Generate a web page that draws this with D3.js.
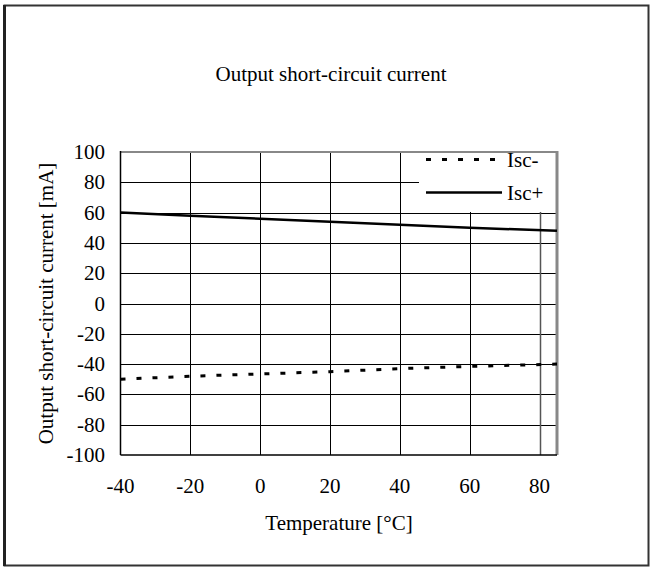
<!DOCTYPE html>
<html>
<head>
<meta charset="utf-8">
<script src="https://cdn.jsdelivr.net/npm/d3@7"></script>
<style>
  body { margin: 0; background: #fff; }
  text { font-family: "Liberation Serif", "Times New Roman", serif; fill: #000; }
</style>
</head>
<body>
<svg id="chart"></svg>
<script>
// Temperatures [°C] and currents [mA]
var temps = [-40, -20, 0, 20, 40, 60, 85];
var iscMinus = [-50, -48, -46.5, -45, -43, -41.5, -40];
var iscPlus = [60, 58, 56, 54, 52, 50, 48];
var xTicks = [-40, -20, 0, 20, 40, 60, 80];
var yTicks = [-100, -80, -60, -40, -20, 0, 20, 40, 60, 80, 100];
var seriesNames = ["Isc-", "Isc+"];

var width = 652,
    height = 568,
    fontSize = "21px";

var svg = d3.select("#chart")
    .attr("width", width)
    .attr("height", height);

// Outer frame
svg.append("rect")
    .attr("x", 4.5).attr("y", 5.5)
    .attr("width", 644).attr("height", 560)
    .attr("fill", "none")
    .attr("stroke", "#333")
    .attr("stroke-width", 2);
svg.append("line")
    .attr("x1", 4.5).attr("x2", 4.5)
    .attr("y1", 5).attr("y2", 566)
    .attr("stroke", "#222")
    .attr("stroke-width", 3);

// Plot area
var plotLeft = 120.5, plotRight = 557, plotTop = 152, plotBottom = 455;

var x = d3.scaleLinear().domain([-40, 85]).range([plotLeft, plotRight]);
var y = d3.scaleLinear().domain([-100, 100]).range([plotBottom, plotTop]);

// Gridlines
svg.append("g")
    .selectAll("line")
    .data(yTicks.filter(function (d) { return d > -100 && d < 100; }))
    .enter().append("line")
    .attr("x1", plotLeft).attr("x2", plotRight)
    .attr("y1", function (d) { return Math.round(y(d)) + 0.5; })
    .attr("y2", function (d) { return Math.round(y(d)) + 0.5; })
    .attr("stroke", "#000")
    .attr("stroke-width", 1);

svg.append("g")
    .selectAll("line")
    .data(xTicks.filter(function (d) { return d > -40; }))
    .enter().append("line")
    .attr("x1", function (d) { return Math.round(x(d)) + 0.5; })
    .attr("x2", function (d) { return Math.round(x(d)) + 0.5; })
    .attr("y1", plotTop).attr("y2", plotBottom)
    .attr("stroke", function (d) { return d == 80 ? "#555" : "#000"; })
    .attr("stroke-width", function (d) { return d == 80 ? 1.5 : 1; });

// Legend background (hides gridlines behind it)
var legend = svg.append("g");
legend.append("rect")
    .attr("x", 419).attr("y", plotTop + 1)
    .attr("width", plotRight - 419).attr("height", 59)
    .attr("fill", "#fff");

// Plot border: top/right grey, left/bottom black
svg.append("line")
    .attr("x1", plotLeft).attr("x2", plotRight + 1)
    .attr("y1", plotTop).attr("y2", plotTop)
    .attr("stroke", "#888").attr("stroke-width", 2);
svg.append("line")
    .attr("x1", plotRight).attr("x2", plotRight)
    .attr("y1", plotTop - 1).attr("y2", plotBottom)
    .attr("stroke", "#888").attr("stroke-width", 3);
svg.append("line")
    .attr("x1", plotLeft).attr("x2", plotLeft)
    .attr("y1", plotTop - 1).attr("y2", plotBottom)
    .attr("stroke", "#000").attr("stroke-width", 1.5);
svg.append("line")
    .attr("x1", plotLeft).attr("x2", plotRight)
    .attr("y1", plotBottom).attr("y2", plotBottom)
    .attr("stroke", "#000").attr("stroke-width", 1.5);

// Series lines
var line = d3.line()
    .x(function (d) { return x(d[0]); })
    .y(function (d) { return y(d[1]); });

svg.append("path")
    .datum(d3.zip(temps, iscPlus))
    .attr("d", line)
    .attr("fill", "none")
    .attr("stroke", "#000")
    .attr("stroke-width", 2.5);

svg.append("path")
    .datum(d3.zip(temps, iscMinus))
    .attr("d", line)
    .attr("fill", "none")
    .attr("stroke", "#000")
    .attr("stroke-width", 3)
    .attr("stroke-dasharray", "5,11");

// Legend entries
legend.append("line")
    .attr("x1", 426).attr("x2", 497)
    .attr("y1", 159.5).attr("y2", 159.5)
    .attr("stroke", "#000").attr("stroke-width", 3)
    .attr("stroke-dasharray", "5,11");
legend.append("line")
    .attr("x1", 426).attr("x2", 502)
    .attr("y1", 192.5).attr("y2", 192.5)
    .attr("stroke", "#000").attr("stroke-width", 2.5);
legend.selectAll("text")
    .data(seriesNames)
    .enter().append("text")
    .attr("x", 507)
    .attr("y", function (d, i) { return 167 + i * 33; })
    .style("font-size", fontSize)
    .text(function (d) { return d; });

// Tick labels
svg.append("g")
    .selectAll("text")
    .data(yTicks)
    .enter().append("text")
    .attr("x", 105)
    .attr("y", function (d) { return y(d) + 7; })
    .style("text-anchor", "end")
    .style("font-size", fontSize)
    .text(function (d) { return d; });

svg.append("g")
    .selectAll("text")
    .data(xTicks)
    .enter().append("text")
    .attr("x", function (d) { return x(d); })
    .attr("y", 493)
    .style("text-anchor", "middle")
    .style("font-size", fontSize)
    .text(function (d) { return d; });

// Titles
svg.append("text")
    .attr("x", 331).attr("y", 81)
    .style("text-anchor", "middle")
    .style("font-size", fontSize)
    .text("Output short-circuit current");

svg.append("text")
    .attr("x", 339).attr("y", 530)
    .style("text-anchor", "middle")
    .style("font-size", fontSize)
    .text("Temperature [°C]");

svg.append("text")
    .attr("transform", "translate(53," + y(0) + ") rotate(-90)")
    .style("text-anchor", "middle")
    .style("font-size", fontSize)
    .text("Output short-circuit current [mA]");
</script>
</body>
</html>
